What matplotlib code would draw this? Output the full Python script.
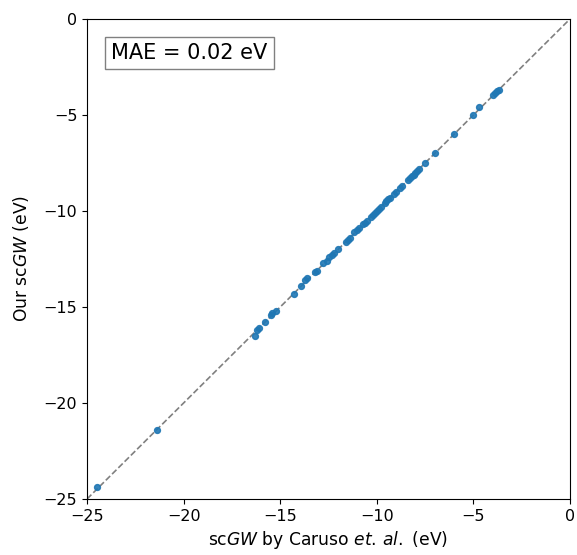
import matplotlib
matplotlib.use("Agg")
import matplotlib.pyplot as plt

# scGW quasiparticle energies (eV): reference (Caruso et al.) vs ours
caruso = [-24.5, -21.4, -16.3, -16.2, -16.1, -15.8, -15.5, -15.4, -15.2,
          -14.3, -13.9, -13.7, -13.6, -13.2, -13.1, -12.8, -12.6, -12.5,
          -12.3, -12.2, -12.0, -11.6, -11.5, -11.4, -11.2, -11.0, -10.9,
          -10.7, -10.6, -10.5, -10.3, -10.2, -10.1, -10.0, -9.9, -9.8,
          -9.6, -9.5, -9.4, -9.3, -9.1, -9.0, -8.8, -8.7, -8.4, -8.3,
          -8.2, -8.1, -8.0, -7.9, -7.8, -7.5, -7.0, -6.0, -5.0, -4.7,
          -4.0, -3.9, -3.8, -3.7]
ours = [-24.4, -21.4, -16.5, -16.2, -16.1, -15.8, -15.4, -15.3, -15.2,
        -14.3, -13.9, -13.6, -13.5, -13.2, -13.1, -12.7, -12.6, -12.4,
        -12.3, -12.2, -12.0, -11.6, -11.5, -11.4, -11.1, -11.0, -10.9,
        -10.7, -10.6, -10.5, -10.3, -10.2, -10.1, -10.0, -9.9, -9.8,
        -9.6, -9.5, -9.4, -9.3, -9.1, -9.0, -8.8, -8.7, -8.4, -8.3,
        -8.2, -8.1, -8.0, -7.9, -7.8, -7.5, -7.0, -6.0, -5.0, -4.6,
        -3.95, -3.85, -3.75, -3.7]
lims = [-25, 0]
mae = 0.02

fig = plt.figure(figsize=(5.77, 5.55), dpi=100)
ax = fig.add_axes([0.1508, 0.1009, 0.8371, 0.8649])

ax.plot(lims, lims, '--', color='gray', lw=1.2, zorder=1)
ax.scatter(caruso, ours, s=18, color='C0', alpha=0.9, zorder=2)

ax.set_xlim(lims)
ax.set_ylim(lims)
ax.set_xlabel(r"sc$GW$ by Caruso $et.\,al.$ (eV)", fontsize=12.3)
ax.set_ylabel(r"Our sc$GW$ (eV)", fontsize=12.3, labelpad=9)
ax.tick_params(labelsize=11.5)

ax.text(0.05, 0.929, f"MAE = {mae} eV", transform=ax.transAxes, fontsize=15,
        va='center', ha='left',
        bbox=dict(boxstyle='square,pad=0.3', facecolor='white', edgecolor='gray'))

plt.savefig("out.png", dpi=100)
